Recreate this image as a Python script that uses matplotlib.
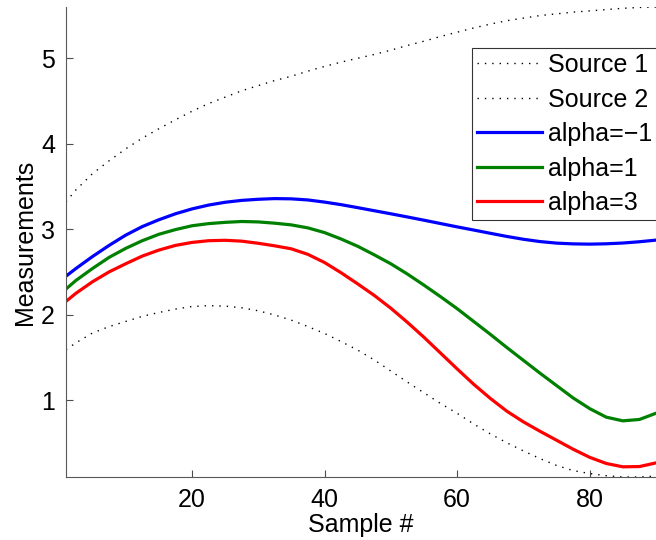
import matplotlib
matplotlib.use("Agg")
import matplotlib.pyplot as plt

plt.rcParams['font.family'] = ['Liberation Sans', 'DejaVu Sans']

# samples (every 2.5 samples)
sample = [1, 2.5, 5, 7.5, 10, 12.5, 15, 17.5, 20, 22.5, 25, 27.5, 30, 32.5, 35, 37.5,
          40, 42.5, 45, 47.5, 50, 52.5, 55, 57.5, 60, 62.5, 65, 67.5, 70, 72.5, 75,
          77.5, 80, 82.5, 85, 87.5, 90]
source1 = [3.32, 3.46, 3.65, 3.80, 3.94, 4.065, 4.175, 4.28, 4.38, 4.47, 4.545, 4.62,
           4.68, 4.74, 4.79, 4.85, 4.905, 4.955, 5.0, 5.045, 5.095, 5.15, 5.20, 5.255,
           5.305, 5.355, 5.40, 5.44, 5.47, 5.50, 5.52, 5.54, 5.555, 5.57, 5.585, 5.595, 5.60]
source2 = [1.59, 1.67, 1.785, 1.86, 1.92, 1.98, 2.025, 2.065, 2.095, 2.105, 2.10, 2.08,
           2.045, 1.995, 1.935, 1.86, 1.78, 1.685, 1.585, 1.47, 1.34, 1.21, 1.085, 0.96,
           0.845, 0.72, 0.605, 0.50, 0.405, 0.315, 0.235, 0.175, 0.14, 0.115, 0.10, 0.10, 0.11]
alpha_m1 = [2.45, 2.54, 2.68, 2.81, 2.93, 3.03, 3.11, 3.18, 3.237, 3.282, 3.315, 3.337,
            3.35, 3.358, 3.355, 3.342, 3.317, 3.287, 3.252, 3.216, 3.18, 3.143, 3.105,
            3.066, 3.027, 2.99, 2.952, 2.915, 2.882, 2.855, 2.837, 2.828, 2.825, 2.829,
            2.838, 2.853, 2.872]
alpha_1 = [2.30, 2.40, 2.54, 2.67, 2.775, 2.865, 2.94, 2.995, 3.04, 3.065, 3.08, 3.09,
           3.085, 3.07, 3.05, 3.015, 2.96, 2.885, 2.80, 2.70, 2.595, 2.475, 2.345, 2.21,
           2.07, 1.92, 1.77, 1.615, 1.465, 1.315, 1.17, 1.025, 0.90, 0.80, 0.757, 0.773, 0.846]
alpha_3 = [2.155, 2.25, 2.385, 2.50, 2.595, 2.685, 2.755, 2.81, 2.845, 2.865, 2.87, 2.86,
           2.835, 2.805, 2.77, 2.705, 2.61, 2.49, 2.36, 2.225, 2.075, 1.91, 1.735, 1.55,
           1.365, 1.185, 1.02, 0.87, 0.745, 0.635, 0.53, 0.425, 0.33, 0.258, 0.219,
           0.222, 0.265]

fig = plt.figure(figsize=(6.56, 5.4), dpi=100)
ax = fig.add_axes([0.1006, 0.1167, 0.8994, 0.8703])

dots = (0, (1, 4.3))
ax.plot(sample, source1, color='black', lw=1.0, linestyle=dots, label='Source 1')
ax.plot(sample, source2, color='black', lw=1.0, linestyle=dots, label='Source 2')
ax.plot(sample, alpha_m1, color=(0, 0, 1), lw=2.3, label='alpha=\u22121')
ax.plot(sample, alpha_1, color=(0, 0.5, 0), lw=2.3, label='alpha=1')
ax.plot(sample, alpha_3, color=(1, 0, 0), lw=2.3, label='alpha=3')

ax.set_xlim(1, 90)
ax.set_ylim(0.1, 5.6)
ax.set_xticks([20, 40, 60, 80])
ax.set_yticks([1, 2, 3, 4, 5])
ax.tick_params(direction='in', length=5, labelsize=18, color='0.3', pad=8)
for s in ['top', 'right']:
    ax.spines[s].set_visible(False)
for s in ['left', 'bottom']:
    ax.spines[s].set_color('0.35')

ax.set_xlabel('Sample #', fontsize=18, labelpad=1)
ax.set_ylabel('Measurements', fontsize=18, labelpad=3)

leg = ax.legend(loc='upper left', bbox_to_anchor=(0.688, 0.9128), borderaxespad=0,
                fontsize=18, frameon=True, fancybox=False, edgecolor='black',
                handlelength=2.6, handletextpad=0.25, labelspacing=0.42, borderpad=0.2)
leg.get_frame().set_linewidth(0.8)

fig.savefig('out.png', dpi=100)
